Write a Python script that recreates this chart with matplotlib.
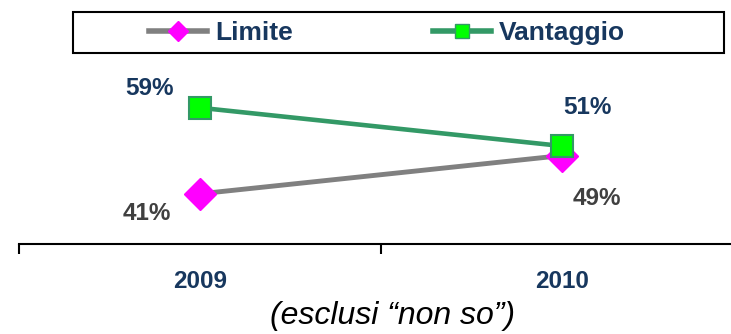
import matplotlib
matplotlib.use("Agg")
import matplotlib.pyplot as plt
from matplotlib.lines import Line2D
from matplotlib.patches import Rectangle

plt.rcParams['font.family'] = ['Liberation Sans', 'DejaVu Sans']

years = ["2009", "2010"]
limite = [41, 49]
vantaggio = [59, 51]
series_names = ["Limite", "Vantaggio"]
footnote = "(esclusi \u201cnon so\u201d)"

navy = "#17375E"
darkgray = "#404040"
gray_line = "#808080"
magenta = "#FF00FF"
green_line = "#339966"
green_fill = "#00FF00"

fig = plt.figure(figsize=(7.31, 3.34), dpi=100)
ax = fig.add_axes([19 / 731, 1 - 244 / 334, 724 / 731, (244 - 7.4) / 334])

x = list(range(len(years)))
ax.plot(x, limite, color=gray_line, lw=3.5, marker="D", ms=16,
        mfc=magenta, mec=magenta, zorder=3)
ax.plot(x, vantaggio, color=green_line, lw=3.3, marker="s", ms=15.5,
        mfc=green_fill, mec=green_line, mew=1.5, zorder=4)

ax.set_xlim(-0.5, 1.5)
ax.set_ylim(30.5, 80)

for s in ["top", "left", "right"]:
    ax.spines[s].set_visible(False)
ax.spines["bottom"].set_linewidth(1.5)
ax.set_yticks([])
ax.set_xticks(x)
ax.set_xticklabels(years, fontsize=17.5, fontweight="bold", color=navy)
ax.tick_params(axis="x", which="major", length=0, pad=19)
ax.set_xticks([-0.5, 0.5, 1.5], minor=True)
ax.tick_params(axis="x", which="minor", length=7, width=1.5, direction="out")

# value labels
label_offsets_v = [(-36, 14), (18, 28)]
label_offsets_l = [(-38, -14.5), (25, -31)]
for i in x:
    ax.annotate(f"{vantaggio[i]}%", (x[i], vantaggio[i]), xytext=label_offsets_v[i],
                textcoords="offset points", ha="center", va="center",
                fontsize=17.5, fontweight="bold", color=navy)
    ax.annotate(f"{limite[i]}%", (x[i], limite[i]), xytext=label_offsets_l[i],
                textcoords="offset points", ha="center", va="center",
                fontsize=17.5, fontweight="bold", color=darkgray)

# legend
handles = [
    Line2D([], [], color=gray_line, lw=4, marker="D", ms=10.5, mfc=magenta, mec=magenta),
    Line2D([], [], color=green_line, lw=4, marker="s", ms=9.5, mfc=green_fill,
           mec=green_line, mew=1),
]
leg = fig.legend(handles, series_names, loc="center", bbox_to_anchor=(387 / 731, 1 - 33 / 334),
                 ncol=2, frameon=False, handlelength=2.2, handletextpad=0.3,
                 columnspacing=5.3, prop={"size": 19, "weight": "bold"})
for t in leg.get_texts():
    t.set_color(navy)
fig.patches.append(Rectangle((73 / 731, 1 - 53 / 334), (724 - 73) / 731, 41 / 334,
                             transform=fig.transFigure, fill=False, ec="black", lw=1.5))

fig.text(392 / 731, 1 - 316 / 334, footnote, ha="center", va="center",
         fontsize=23, style="italic", color="black")

fig.savefig("out.png", dpi=100)
